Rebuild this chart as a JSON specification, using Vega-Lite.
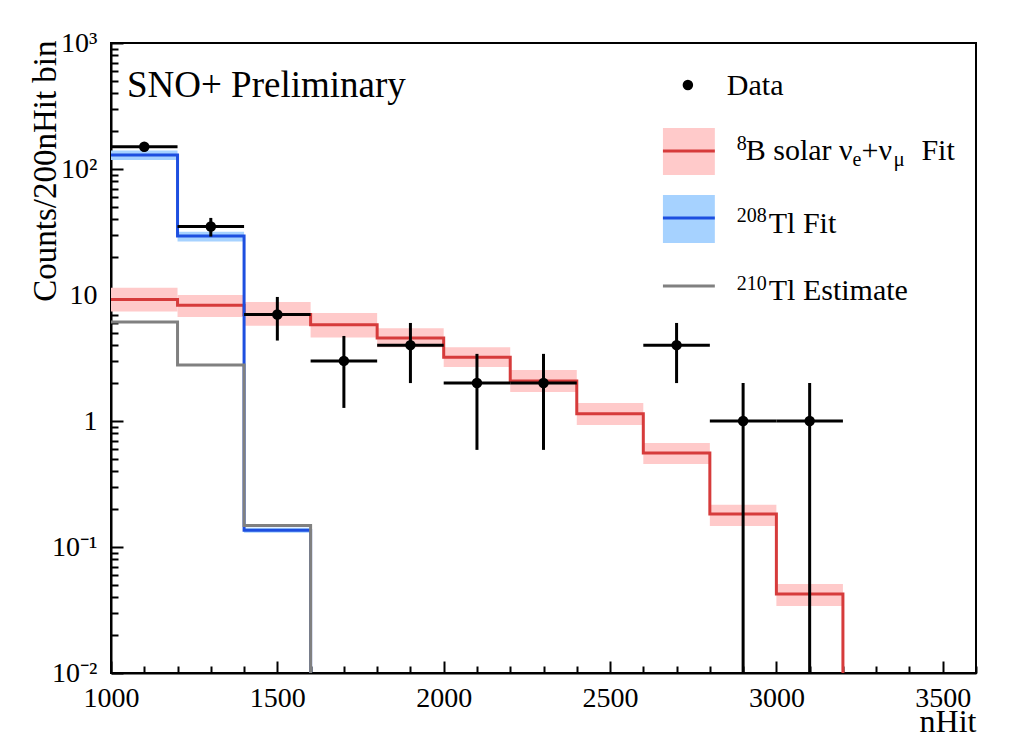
{
  "$schema": "https://vega.github.io/schema/vega-lite/v6.json",
  "width": 865,
  "height": 630,
  "autosize": {"type": "none"},
  "padding": {"left": 111, "top": 43, "right": 55, "bottom": 65},
  "background": "white",
  "config": {
    "font": "Liberation Serif",
    "view": {"stroke": "black", "strokeWidth": 2},
    "axis": {
      "labelFont": "Liberation Serif", "titleFont": "Liberation Serif",
      "labelColor": "black", "titleColor": "black",
      "domainColor": "black", "domainWidth": 2,
      "tickColor": "black", "tickWidth": 2,
      "grid": false, "labelFontSize": 28, "titleFontSize": 33,
      "titleFontWeight": "normal", "labelFlush": false, "labelOverlap": false
    }
  },
  "datasets": {
    "fit": [
      {"series": "8B", "lo": 1000, "hi": 1200, "v": 9.2, "vlo": 7.4, "vhi": 11.4},
      {"series": "8B", "lo": 1200, "hi": 1400, "v": 8.3, "vlo": 6.7, "vhi": 10.0},
      {"series": "8B", "lo": 1400, "hi": 1600, "v": 7.0, "vlo": 5.7, "vhi": 8.8},
      {"series": "8B", "lo": 1600, "hi": 1800, "v": 5.8, "vlo": 4.6, "vhi": 7.2},
      {"series": "8B", "lo": 1800, "hi": 2000, "v": 4.55, "vlo": 3.85, "vhi": 5.45},
      {"series": "8B", "lo": 2000, "hi": 2200, "v": 3.2, "vlo": 2.68, "vhi": 3.85},
      {"series": "8B", "lo": 2200, "hi": 2400, "v": 2.08, "vlo": 1.7, "vhi": 2.54},
      {"series": "8B", "lo": 2400, "hi": 2600, "v": 1.14, "vlo": 0.93, "vhi": 1.39},
      {"series": "8B", "lo": 2600, "hi": 2800, "v": 0.557, "vlo": 0.456, "vhi": 0.668},
      {"series": "8B", "lo": 2800, "hi": 3000, "v": 0.183, "vlo": 0.147, "vhi": 0.216},
      {"series": "8B", "lo": 3000, "hi": 3200, "v": 0.0424, "vlo": 0.034, "vhi": 0.0508},
      {"series": "8B", "lo": 3200, "hi": 3400, "v": 0},
      {"series": "208Tl", "lo": 1000, "hi": 1200, "v": 129, "vlo": 118, "vhi": 140},
      {"series": "208Tl", "lo": 1200, "hi": 1400, "v": 29.4, "vlo": 26.6, "vhi": 31.8},
      {"series": "208Tl", "lo": 1400, "hi": 1600, "v": 0.136, "vlo": 0.13, "vhi": 0.142},
      {"series": "208Tl", "lo": 1600, "hi": 1800, "v": 0},
      {"series": "210Tl", "lo": 1000, "hi": 1200, "v": 6.1},
      {"series": "210Tl", "lo": 1200, "hi": 1400, "v": 2.78},
      {"series": "210Tl", "lo": 1400, "hi": 1600, "v": 0.148},
      {"series": "210Tl", "lo": 1600, "hi": 1800, "v": 0}
    ],
    "obs": [
      {"x": 1100, "lo": 1000, "hi": 1200, "n": 150, "elo": 137.8, "ehi": 162.2},
      {"x": 1300, "lo": 1200, "hi": 1400, "n": 35, "elo": 29.1, "ehi": 40.9},
      {"x": 1500, "lo": 1400, "hi": 1600, "n": 7, "elo": 4.35, "ehi": 9.65},
      {"x": 1700, "lo": 1600, "hi": 1800, "n": 3, "elo": 1.27, "ehi": 4.73},
      {"x": 1900, "lo": 1800, "hi": 2000, "n": 4, "elo": 2, "ehi": 6},
      {"x": 2100, "lo": 2000, "hi": 2200, "n": 2, "elo": 0.59, "ehi": 3.41},
      {"x": 2300, "lo": 2200, "hi": 2400, "n": 2, "elo": 0.59, "ehi": 3.41},
      {"x": 2700, "lo": 2600, "hi": 2800, "n": 4, "elo": 2, "ehi": 6},
      {"x": 2900, "lo": 2800, "hi": 3000, "n": 1, "elo": 0, "ehi": 2},
      {"x": 3100, "lo": 3000, "hi": 3200, "n": 1, "elo": 0, "ehi": 2}
    ],
    "one": [{}]
  },
  "layer": [
    {
      "data": {"name": "fit"},
      "transform": [{"filter": "datum.series === '8B' && isValid(datum.vhi)"}],
      "mark": {"type": "rect", "color": "#ffcaca"},
      "encoding": {
        "x": {
          "field": "lo", "type": "quantitative",
          "scale": {"domain": [1000, 3600], "nice": false, "zero": false},
          "axis": {
            "title": "nHit",
            "values": [1000,1100,1200,1300,1400,1500,1600,1700,1800,1900,2000,2100,2200,2300,2400,2500,2600,2700,2800,2900,3000,3100,3200,3300,3400,3500,3600],
            "tickCount": 100,
            "format": "d",
            "labelExpr": "datum.value % 500 === 0 && datum.value < 3600 ? datum.label : ''",
            "labelOverlap": false,
            "tickSize": {"condition": {"test": "datum.value % 500 === 0", "value": -12}, "value": -7},
            "labelPadding": 23,
            "titleFontSize": 32,
            "titleAlign": "right", "titleAnchor": "end", "titleBaseline": "alphabetic",
            "titleX": 865, "titleY": 58
          }
        },
        "x2": {"field": "hi"},
        "y": {
          "field": "vlo", "type": "quantitative",
          "scale": {"type": "log", "domain": [0.01, 1000], "clamp": true, "nice": false},
          "axis": {
            "title": "Counts/200nHit bin",
            "values": [0.01,0.02,0.03,0.04,0.05,0.06,0.07,0.08,0.09,0.1,0.2,0.3,0.4,0.5,0.6,0.7,0.8,0.9,1,2,3,4,5,6,7,8,9,10,20,30,40,50,60,70,80,90,100,200,300,400,500,600,700,800,900,1000],
            "tickCount": 100,
            "labelExpr": "abs(datum.value-1000)<1e-6 ? '10³' : abs(datum.value-100)<1e-6 ? '10²' : abs(datum.value-10)<1e-6 ? '10' : abs(datum.value-1)<1e-9 ? '1' : abs(datum.value-0.1)<1e-9 ? '10⁻¹' : abs(datum.value-0.01)<1e-9 ? '10⁻²' : ''",
            "labelOverlap": false,
            "tickSize": {"condition": {"test": "abs(log(datum.value)/LN10 - round(log(datum.value)/LN10)) < 0.001", "value": -12}, "value": -7},
            "labelPadding": 26,
            "titleAngle": 270, "titleAlign": "right", "titleBaseline": "middle",
            "titleX": -66, "titleY": -3
          }
        },
        "y2": {"field": "vhi"}
      }
    },
    {
      "data": {"name": "fit"},
      "transform": [{"filter": "datum.series === '208Tl' && isValid(datum.vhi)"}],
      "mark": {"type": "rect", "color": "#a6d2ff"},
      "encoding": {
        "x": {"field": "lo", "type": "quantitative"},
        "x2": {"field": "hi"},
        "y": {"field": "vlo", "type": "quantitative"},
        "y2": {"field": "vhi"}
      }
    },
    {
      "data": {"name": "fit"},
      "transform": [{"filter": "datum.series === '8B'"}],
      "mark": {"type": "line", "interpolate": "step-after", "color": "#d63b3b", "strokeWidth": 3, "invalid": "show"},
      "encoding": {
        "x": {"field": "lo", "type": "quantitative"},
        "y": {"field": "v", "type": "quantitative"}
      }
    },
    {
      "data": {"name": "fit"},
      "transform": [{"filter": "datum.series === '208Tl'"}],
      "mark": {"type": "line", "interpolate": "step-after", "color": "#1d4fe0", "strokeWidth": 3, "invalid": "show"},
      "encoding": {
        "x": {"field": "lo", "type": "quantitative"},
        "y": {"field": "v", "type": "quantitative"}
      }
    },
    {
      "data": {"name": "fit"},
      "transform": [{"filter": "datum.series === '210Tl'"}],
      "mark": {"type": "line", "interpolate": "step-after", "color": "#808080", "strokeWidth": 3, "invalid": "show"},
      "encoding": {
        "x": {"field": "lo", "type": "quantitative"},
        "y": {"field": "v", "type": "quantitative"}
      }
    },
    {
      "data": {"name": "obs"},
      "mark": {"type": "rule", "color": "black", "strokeWidth": 3},
      "encoding": {
        "x": {"field": "lo", "type": "quantitative"},
        "x2": {"field": "hi"},
        "y": {"field": "n", "type": "quantitative"}
      }
    },
    {
      "data": {"name": "obs"},
      "mark": {"type": "rule", "color": "black", "strokeWidth": 3, "invalid": "show"},
      "encoding": {
        "x": {"field": "x", "type": "quantitative"},
        "y": {"field": "elo", "type": "quantitative"},
        "y2": {"field": "ehi"}
      }
    },
    {
      "data": {"name": "obs"},
      "mark": {"type": "circle", "color": "black", "opacity": 1, "size": 110},
      "encoding": {
        "x": {"field": "x", "type": "quantitative"},
        "y": {"field": "n", "type": "quantitative"}
      }
    },
    {
      "data": {"name": "one"},
      "mark": {"type": "text", "text": "SNO+ Preliminary", "fontSize": 37, "align": "left", "baseline": "alphabetic", "font": "Liberation Serif", "color": "black"},
      "encoding": {"x": {"datum": 1048}, "y": {"datum": 372.8}}
    },
    {
      "data": {"name": "one"},
      "mark": {"type": "circle", "color": "black", "opacity": 1, "size": 110},
      "encoding": {"x": {"datum": 2734}, "y": {"datum": 464}}
    },
    {
      "data": {"name": "one"},
      "mark": {"type": "text", "text": "Data", "fontSize": 30, "align": "left", "baseline": "alphabetic", "font": "Liberation Serif", "color": "black"},
      "encoding": {"x": {"datum": 2851}, "y": {"datum": 386.7}}
    },
    {
      "data": {"name": "one"},
      "mark": {"type": "rect", "color": "#ffcaca"},
      "encoding": {"x": {"datum": 2659}, "x2": {"datum": 2815}, "y": {"datum": 89.6}, "y2": {"datum": 211.5}}
    },
    {
      "data": {"name": "one"},
      "mark": {"type": "rule", "color": "#d63b3b", "strokeWidth": 3},
      "encoding": {"x": {"datum": 2659}, "x2": {"datum": 2815}, "y": {"datum": 139}}
    },
    {
      "data": {"name": "one"},
      "mark": {"type": "rect", "color": "#a6d2ff"},
      "encoding": {"x": {"datum": 2659}, "x2": {"datum": 2815}, "y": {"datum": 25.9}, "y2": {"datum": 62.2}}
    },
    {
      "data": {"name": "one"},
      "mark": {"type": "rule", "color": "#1d4fe0", "strokeWidth": 3},
      "encoding": {"x": {"datum": 2659}, "x2": {"datum": 2815}, "y": {"datum": 40.8}}
    },
    {
      "data": {"name": "one"},
      "mark": {"type": "rule", "color": "#808080", "strokeWidth": 3},
      "encoding": {"x": {"datum": 2659}, "x2": {"datum": 2815}, "y": {"datum": 11.8}}
    },
    {
      "data": {"name": "one"},
      "mark": {"type": "text", "text": "8", "fontSize": 20, "align": "left", "baseline": "alphabetic", "font": "Liberation Serif", "color": "black"},
      "encoding": {"x": {"datum": 2881}, "y": {"datum": 141.5}}
    },
    {
      "data": {"name": "one"},
      "mark": {"type": "text", "text": "B solar ν", "fontSize": 30, "align": "left", "baseline": "alphabetic", "font": "Liberation Serif", "color": "black"},
      "encoding": {"x": {"datum": 2908}, "y": {"datum": 117.9}}
    },
    {
      "data": {"name": "one"},
      "mark": {"type": "text", "text": "e", "fontSize": 20, "align": "left", "baseline": "alphabetic", "font": "Liberation Serif", "color": "black"},
      "encoding": {"x": {"datum": 3229}, "y": {"datum": 105.6}}
    },
    {
      "data": {"name": "one"},
      "mark": {"type": "text", "text": "+ν", "fontSize": 30, "align": "left", "baseline": "alphabetic", "font": "Liberation Serif", "color": "black"},
      "encoding": {"x": {"datum": 3256}, "y": {"datum": 117.9}}
    },
    {
      "data": {"name": "one"},
      "mark": {"type": "text", "text": "μ", "fontSize": 21, "align": "left", "baseline": "alphabetic", "font": "Liberation Serif", "color": "black"},
      "encoding": {"x": {"datum": 3352}, "y": {"datum": 105.6}}
    },
    {
      "data": {"name": "one"},
      "mark": {"type": "text", "text": "Fit", "fontSize": 30, "align": "left", "baseline": "alphabetic", "font": "Liberation Serif", "color": "black"},
      "encoding": {"x": {"datum": 3436}, "y": {"datum": 117.9}}
    },
    {
      "data": {"name": "one"},
      "mark": {"type": "text", "text": "208", "fontSize": 20, "align": "left", "baseline": "alphabetic", "font": "Liberation Serif", "color": "black"},
      "encoding": {"x": {"datum": 2881}, "y": {"datum": 37.97}}
    },
    {
      "data": {"name": "one"},
      "mark": {"type": "text", "text": "Tl Fit", "fontSize": 30, "align": "left", "baseline": "alphabetic", "font": "Liberation Serif", "color": "black"},
      "encoding": {"x": {"datum": 2977}, "y": {"datum": 31.05}}
    },
    {
      "data": {"name": "one"},
      "mark": {"type": "text", "text": "210", "fontSize": 20, "align": "left", "baseline": "alphabetic", "font": "Liberation Serif", "color": "black"},
      "encoding": {"x": {"datum": 2881}, "y": {"datum": 10.96}}
    },
    {
      "data": {"name": "one"},
      "mark": {"type": "text", "text": "Tl Estimate", "fontSize": 30, "align": "left", "baseline": "alphabetic", "font": "Liberation Serif", "color": "black"},
      "encoding": {"x": {"datum": 2977}, "y": {"datum": 9.13}}
    }
  ]
}
